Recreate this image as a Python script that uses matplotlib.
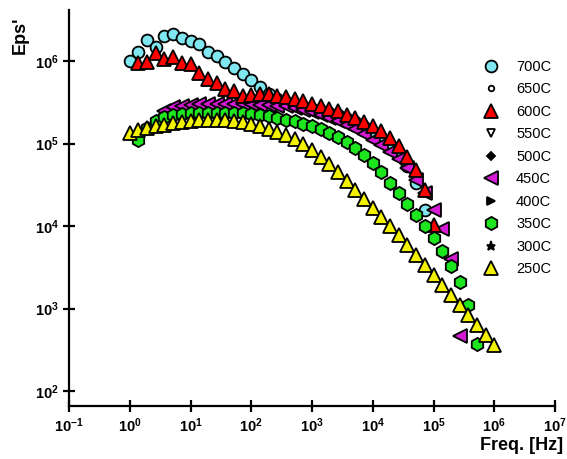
import numpy as np
import matplotlib
matplotlib.use("Agg")
import matplotlib.pyplot as plt

plt.rcParams["font.family"] = ["Liberation Sans", "DejaVu Sans"]
plt.rcParams["mathtext.fontset"] = "custom"
plt.rcParams["mathtext.rm"] = "Liberation Sans"
plt.rcParams["mathtext.bf"] = "Liberation Sans:bold"

# measurement frequencies (Hz)
freq = [1, 1.39, 1.93, 2.68, 3.73, 5.18, 7.2,
        10, 13.9, 19.3, 26.8, 37.3, 51.8, 72,
        100, 139, 193, 268, 373, 518, 720,
        1e3, 1.39e3, 1.93e3, 2.68e3, 3.73e3, 5.18e3, 7.2e3,
        1e4, 1.39e4, 1.93e4, 2.68e4, 3.73e4, 5.18e4, 7.2e4,
        1e5, 1.39e5, 1.93e5, 2.68e5, 3.73e5, 5.18e5, 7.2e5,
        1e6]

# Eps' per temperature (starting at freq index given by start_*)
eps_700 = [1.00e6, 1.29e6, 1.78e6, 1.48e6, 2.00e6, 2.14e6, 1.91e6, 1.74e6,
           1.62e6, 1.29e6, 1.15e6, 9.77e5, 8.32e5, 6.92e5, 5.89e5, 4.79e5,
           3.98e5, 3.47e5, 3.16e5, 2.95e5, 2.75e5, 2.63e5, 2.51e5, 2.34e5,
           2.19e5, 2.00e5, 1.82e5, 1.58e5, 1.38e5, 1.17e5, 9.55e4, 7.41e4,
           5.37e4, 3.31e4, 1.55e4]
start_700 = 0

eps_600 = [9.55e5, 9.77e5, 1.26e6, 1.05e6, 1.12e6, 9.55e5, 9.12e5, 7.08e5,
           6.03e5, 5.37e5, 4.57e5, 4.37e5, 3.80e5, 3.89e5, 3.98e5, 3.98e5,
           3.80e5, 3.63e5, 3.47e5, 3.24e5, 3.02e5, 2.82e5, 2.63e5, 2.45e5,
           2.24e5, 2.04e5, 1.82e5, 1.62e5, 1.41e5, 1.17e5, 9.33e4, 6.92e4,
           4.79e4, 2.75e4, 1.02e4]
start_600 = 1

eps_450 = [2.45e5, 2.75e5, 2.88e5, 2.95e5, 3.02e5, 3.02e5, 3.02e5, 3.02e5,
           3.02e5, 3.02e5, 3.02e5, 2.95e5, 2.95e5, 2.88e5, 2.82e5, 2.69e5,
           2.57e5, 2.40e5, 2.24e5, 2.04e5, 1.86e5, 1.70e5, 1.48e5, 1.29e5,
           1.10e5, 9.55e4, 7.94e4, 6.46e4, 5.01e4, 3.63e4, 2.51e4, 1.58e4,
           9.12e3, 3.98e3, 468]
start_450 = 4

eps_350 = [1.10e5, 1.55e5, 1.86e5, 2.09e5, 2.24e5, 2.29e5, 2.34e5, 2.34e5,
           2.34e5, 2.34e5, 2.34e5, 2.34e5, 2.34e5, 2.29e5, 2.24e5, 2.14e5,
           2.04e5, 1.95e5, 1.86e5, 1.74e5, 1.62e5, 1.48e5, 1.35e5, 1.20e5,
           1.05e5, 8.91e4, 7.24e4, 5.75e4, 4.47e4, 3.31e4, 2.51e4, 1.86e4,
           1.38e4, 1.00e4, 7.24e3, 5.01e3, 3.31e3, 2.09e3, 1.10e3, 372]
start_350 = 1

eps_250 = [1.35e5, 1.45e5, 1.55e5, 1.62e5, 1.70e5, 1.78e5, 1.82e5, 1.86e5,
           1.91e5, 1.91e5, 1.91e5, 1.91e5, 1.86e5, 1.82e5, 1.74e5, 1.62e5,
           1.51e5, 1.38e5, 1.26e5, 1.12e5, 9.77e4, 8.32e4, 6.92e4, 5.62e4,
           4.47e4, 3.55e4, 2.75e4, 2.14e4, 1.66e4, 1.29e4, 1.00e4, 7.76e3,
           5.89e3, 4.47e3, 3.39e3, 2.57e3, 1.95e3, 1.45e3, 1.10e3, 832,
           631, 479, 363]
start_250 = 0

x_ticks = [1e-1, 1e0, 1e1, 1e2, 1e3, 1e4, 1e5, 1e6, 1e7]
x_labels = [r"$\mathbf{10^{-1}}$", r"$\mathbf{10^{0}}$", r"$\mathbf{10^{1}}$",
            r"$\mathbf{10^{2}}$", r"$\mathbf{10^{3}}$", r"$\mathbf{10^{4}}$",
            r"$\mathbf{10^{5}}$", r"$\mathbf{10^{6}}$", r"$\mathbf{10^{7}}$"]
y_ticks = [1e2, 1e3, 1e4, 1e5, 1e6]
y_labels = [r"$\mathbf{10^{2}}$", r"$\mathbf{10^{3}}$", r"$\mathbf{10^{4}}$",
            r"$\mathbf{10^{5}}$", r"$\mathbf{10^{6}}$"]


def main():
    fig = plt.figure(figsize=(5.67, 4.59), dpi=100)
    ax = fig.add_axes([69 / 567, 53 / 459, 486 / 567, 396 / 459])
    f = np.array(freq)

    # label, start index, data, marker, size, face colour, stacking order
    series = [
        ("700C", start_700, eps_700, "o", 8.5, "#80E6F0", 2),
        ("650C", 0, [], "o", 4, "white", 2),
        ("600C", start_600, eps_600, "^", 10, "#FF0000", 4),
        ("550C", 0, [], "v", 5.5, "white", 2),
        ("500C", 0, [], "D", 4.5, "black", 2),
        ("450C", start_450, eps_450, "<", 10, "#D41AD4", 3),
        ("400C", 0, [], ">", 5.5, "black", 2),
        ("350C", start_350, eps_350, "h", 9.5, "#1EE61E", 5),
        ("300C", 0, [], "*", 6.5, "black", 2),
        ("250C", start_250, eps_250, "^", 10, "#F2F200", 6),
    ]
    for label, start, eps, marker, size, color, z in series:
        x = f[start:start + len(eps)]
        ax.plot(x, eps, linestyle="none", marker=marker, markersize=size,
                markerfacecolor=color, markeredgecolor="black",
                markeredgewidth=1.3, label=label, zorder=z)

    ax.set_xscale("log")
    ax.set_yscale("log")
    ax.set_xlim(1e-1, 1e7)
    ax.set_ylim(66, 4.15e6)
    ax.set_xticks(x_ticks, x_labels)
    ax.set_yticks(y_ticks, y_labels)
    ax.minorticks_off()
    ax.tick_params(direction="inout", length=9, width=1.6, labelsize=10.5,
                   pad=3)
    for side in ["top", "right"]:
        ax.spines[side].set_visible(False)
    for side in ["left", "bottom"]:
        ax.spines[side].set_linewidth(1.6)

    fig.text(20 / 567, 1 - 35 / 459, "Eps'", rotation=90, fontsize=13,
             fontweight="bold", ha="center", va="center")
    fig.text(563 / 567, 1 - 446 / 459, "Freq. [Hz]", fontsize=13,
             fontweight="bold", ha="right", va="center")

    ax.legend(loc="upper left", bbox_to_anchor=(484 / 567, 1 - 60 / 459),
              bbox_transform=fig.transFigure, frameon=False, fontsize=10.5,
              handlelength=1.0, handletextpad=1.2, labelspacing=0.58,
              borderpad=0, borderaxespad=0)

    fig.savefig("out.png", dpi=100)


if __name__ == "__main__":
    main()
